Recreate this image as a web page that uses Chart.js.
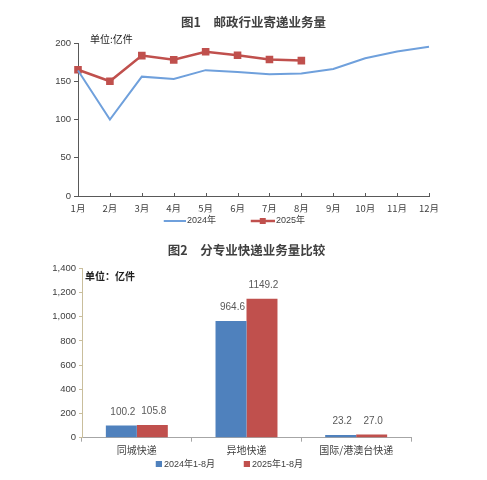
<!DOCTYPE html>
<html><head><meta charset="utf-8">
<script src="https://cdn.jsdelivr.net/npm/chart.js@4.4.1/dist/chart.umd.min.js"></script>
<style>
html,body{margin:0;padding:0;background:#fff;width:487px;height:480px;overflow:hidden}
#w1{position:absolute;left:0;top:0;width:487px;height:236px}
#w2{position:absolute;left:0;top:236px;width:487px;height:244px}
</style></head><body>
<div id="w1"><canvas id="c1" width="487" height="236"></canvas></div>
<div id="w2"><canvas id="c2" width="487" height="244"></canvas></div>
<script>
// ---- data: chart 1 ----
const months = ['1月','2月','3月','4月','5月','6月','7月','8月','9月','10月','11月','12月'];
const volume2024 = [164, 100, 156, 153, 164.5, 162, 159, 160, 166, 180, 189, 195];
const volume2025 = [165, 150, 183.5, 178, 188.5, 184, 178.5, 177];
const lineSeriesNames = ['2024年', '2025年'];
const lineTicks = [0, 50, 100, 150, 200];
// ---- data: chart 2 ----
const categories = ['同城快递', '异地快递', '国际/港澳台快递'];
const express2024 = [100.2, 964.6, 23.2];
const express2025 = [105.8, 1149.2, 27.0];
const barSeriesNames = ['2024年1-8月', '2025年1-8月'];
const barTicks = [0, 200, 400, 600, 800, 1000, 1200, 1400];

const FAM = '"Liberation Sans","Noto Sans CJK SC",sans-serif';
const CJK = '"Noto Sans CJK SC","Liberation Sans",sans-serif';
const TXT = '#404040';
const BLUE_L = '#6FA0DC', RED = '#C0504D', BLUE = '#4F81BD';

function swatch(w, h, draw) {
  const c = document.createElement('canvas');
  c.width = w; c.height = h;
  draw(c.getContext('2d'), w, h);
  return c;
}
const sw1a = swatch(58, 8, (g, w, h) => { g.strokeStyle = BLUE_L; g.lineWidth = 2; g.beginPath(); g.moveTo(w - 22, h / 2); g.lineTo(w, h / 2); g.stroke(); });
const sw1b = swatch(58, 8, (g, w, h) => { g.strokeStyle = RED; g.lineWidth = 2.5; g.beginPath(); g.moveTo(w - 24, h / 2); g.lineTo(w, h / 2); g.stroke(); g.fillStyle = RED; g.fillRect(w - 12 - 3, h / 2 - 3, 6, 6); });
const sw2a = swatch(33, 6, (g, w, h) => { g.fillStyle = BLUE; g.fillRect(w - 6, 0, 6, 6); });
const sw2b = swatch(33, 6, (g, w, h) => { g.fillStyle = RED; g.fillRect(w - 6, 0, 6, 6); });

const unitLabel = {
  id: 'unitLabel',
  afterDraw(chart, args, opts) {
    const ctx = chart.ctx, a = chart.chartArea;
    ctx.save();
    ctx.font = opts.font;
    ctx.fillStyle = opts.color || TXT;
    ctx.textAlign = 'left';
    ctx.textBaseline = 'middle';
    ctx.fillText(opts.text, a.left + opts.dx, a.top + opts.dy);
    ctx.restore();
  }
};
const innerTicks = {
  id: 'innerTicks',
  afterDraw(chart, args, opts) {
    if (!opts || !opts.enabled) return;
    const s = chart.scales.x, ctx = chart.ctx, b = chart.chartArea.bottom;
    ctx.save();
    ctx.strokeStyle = opts.color; ctx.lineWidth = 1;
    s.ticks.forEach((t, i) => {
      const px = Math.round(s.getPixelForTick(i)) + 0.5;
      ctx.beginPath(); ctx.moveTo(px, b); ctx.lineTo(px, b - opts.length); ctx.stroke();
    });
    ctx.restore();
  }
};
const valueLabels = {
  id: 'valueLabels',
  afterDatasetsDraw(chart, args, opts) {
    if (!opts || !opts.enabled) return;
    const ctx = chart.ctx;
    ctx.save();
    ctx.font = opts.font; ctx.fillStyle = opts.color;
    ctx.textAlign = 'center'; ctx.textBaseline = 'middle';
    chart.data.datasets.forEach((ds, di) => {
      chart.getDatasetMeta(di).data.forEach((el, i) => {
        ctx.fillText(Number(ds.data[i]).toFixed(1), el.x + 1.5, el.y - opts.offset);
      });
    });
    ctx.restore();
  }
};

// ---------- Chart 1 ----------
new Chart(document.getElementById('c1'), {
  type: 'line',
  data: {
    labels: months,
    datasets: [
      { label: lineSeriesNames[0], data: volume2024, borderColor: BLUE_L, backgroundColor: BLUE_L, borderWidth: 2, pointRadius: 0, tension: 0 },
      { label: lineSeriesNames[1], data: volume2025, borderColor: RED, backgroundColor: RED, borderWidth: 2.5, pointStyle: 'rect', pointRadius: 3.6, pointHoverRadius: 3.6, tension: 0 }
    ]
  },
  options: {
    responsive: false, animation: false, events: [],
    layout: { padding: { left: 0, right: 51, top: 0, bottom: 0.5 } },
    scales: {
      x: {
        offset: false,
        grid: { display: true, drawOnChartArea: false, drawTicks: false },
        border: { color: '#595959', width: 1 },
        ticks: { padding: 7, autoSkip: false, maxRotation: 0, font: { size: 9.5, family: CJK }, color: TXT },
        afterFit: s => { s.height = 16.5; }
      },
      y: {
        min: 0, max: 200,
        afterBuildTicks: s => { s.ticks = lineTicks.map(v => ({ value: v })); },
        grid: { drawOnChartArea: false, drawTicks: true, tickLength: 4, color: '#595959' },
        border: { color: '#595959', width: 1 },
        ticks: { padding: 3, font: { size: 9.5, family: FAM }, color: TXT },
        afterFit: s => { s.width = 78; }
      },
      yR: {
        position: 'right', display: true,
        grid: { display: false }, border: { display: false }, ticks: { display: false },
        afterFit: s => { s.width = 7; }
      }
    },
    plugins: {
      title: { display: true, text: '图1　邮政行业寄递业务量', fullSize: false, color: TXT, font: { size: 12.5, weight: 'bold', family: CJK }, padding: { top: 14.5, bottom: 13.5 } },
      legend: {
        position: 'bottom',
        labels: {
          usePointStyle: true, pointStyleWidth: 51.5, padding: 4,
          font: { size: 9, family: FAM }, color: TXT,
          generateLabels: () => [
            { text: lineSeriesNames[0], pointStyle: sw1a, fillStyle: BLUE_L, strokeStyle: BLUE_L, lineWidth: 0, hidden: false, datasetIndex: 0, fontColor: TXT },
            { text: lineSeriesNames[1], pointStyle: sw1b, fillStyle: RED, strokeStyle: RED, lineWidth: 0, hidden: false, datasetIndex: 1, fontColor: TXT }
          ]
        }
      },
      tooltip: { enabled: false },
      unitLabel: { text: '单位:亿件', dx: 12, dy: -4, font: '10px ' + CJK, color: '#202020' },
      innerTicks: { enabled: true, length: 3, color: '#595959' }
    }
  },
  plugins: [unitLabel, innerTicks]
});

// ---------- Chart 2 ----------
new Chart(document.getElementById('c2'), {
  type: 'bar',
  data: {
    labels: categories,
    datasets: [
      { label: barSeriesNames[0], data: express2024, backgroundColor: BLUE, categoryPercentage: 0.565, barPercentage: 1 },
      { label: barSeriesNames[1], data: express2025, backgroundColor: RED, categoryPercentage: 0.565, barPercentage: 1 }
    ]
  },
  options: {
    responsive: false, animation: false, events: [],
    layout: { padding: { left: 0, right: 53, top: 0, bottom: 1.2 } },
    scales: {
      x: {
        grid: { offset: true, drawOnChartArea: false, drawTicks: true, tickLength: 4, color: '#A6A6A6' },
        border: { color: '#A6A6A6', width: 1 },
        ticks: { padding: 2.3, autoSkip: false, maxRotation: 0, font: { size: 10, family: CJK }, color: TXT },
        afterFit: s => { s.height = 18.1; }
      },
      y: {
        min: 0, max: 1400,
        afterBuildTicks: s => { s.ticks = barTicks.map(v => ({ value: v })); },
        grid: { drawOnChartArea: false, drawTicks: true, tickLength: 3, color: '#C9BE9C' },
        border: { color: '#C9BE9C', width: 1 },
        ticks: { padding: 3, font: { size: 9.5, family: FAM }, color: TXT, callback: v => Number(v).toLocaleString('en-US') },
        afterFit: s => { s.width = 82; }
      },
      yR: {
        position: 'right', display: true,
        grid: { display: false }, border: { display: false }, ticks: { display: false },
        afterFit: s => { s.width = 23; }
      }
    },
    plugins: {
      title: { display: true, text: '图2　分专业快递业务量比较', fullSize: false, color: TXT, font: { size: 12.5, weight: 'bold', family: CJK }, padding: { top: 6.5, bottom: 10.8 } },
      legend: {
        position: 'bottom',
        labels: {
          usePointStyle: true, pointStyleWidth: 28.5, padding: 4,
          font: { size: 9, family: FAM }, color: TXT,
          generateLabels: () => [
            { text: barSeriesNames[0], pointStyle: sw2a, fillStyle: BLUE, strokeStyle: BLUE, lineWidth: 0, hidden: false, datasetIndex: 0, fontColor: TXT },
            { text: barSeriesNames[1], pointStyle: sw2b, fillStyle: RED, strokeStyle: RED, lineWidth: 0, hidden: false, datasetIndex: 1, fontColor: TXT }
          ]
        }
      },
      tooltip: { enabled: false },
      unitLabel: { text: '单位：亿件', dx: 3, dy: 8.4, font: 'bold 10px ' + CJK, color: '#202020' },
      valueLabels: { enabled: true, offset: 13.5, font: '10px ' + FAM, color: '#595959' }
    }
  },
  plugins: [unitLabel, valueLabels]
});
</script>
</body></html>
